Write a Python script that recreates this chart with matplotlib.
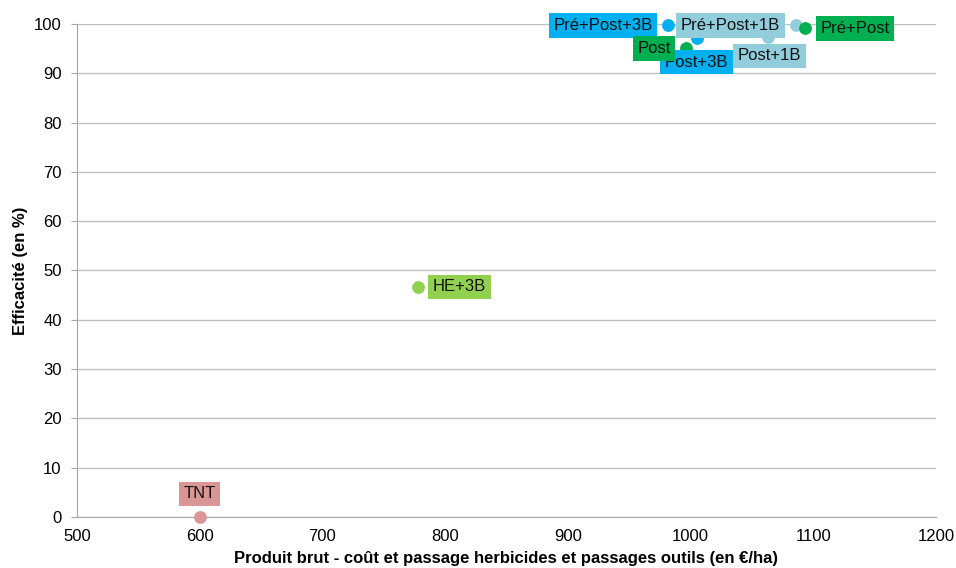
import matplotlib
matplotlib.use("Agg")
import matplotlib.pyplot as plt

plt.rcParams['font.family'] = ['Liberation Sans', 'DejaVu Sans']

labels = ["TNT", "HE+3B", "Pré+Post+3B", "Pré+Post+1B", "Pré+Post", "Post+3B", "Post", "Post+1B"]
x_vals = [600, 778, 982, 1086, 1093, 1005, 996, 1063]
y_vals = [0, 46.7, 99.7, 99.7, 99.1, 97.1, 95.2, 97.4]

colors = ["#DA9694", "#92D050", "#00B0F0", "#92CDDC", "#00B050", "#00B0F0", "#00B050", "#92CDDC"]
# label offsets in pixels (dx, dy) and alignment
offsets = [(0, 23, 'center'), (15, 0, 'left'), (-16, 0, 'right'), (-16, 0, 'right'),
           (16, 0, 'left'), (0, -24, 'center'), (-15, -1, 'right'), (2, -19, 'center')]

fig = plt.figure(figsize=(9.56, 5.68), dpi=100)
ax = fig.add_axes([0.0805, 0.0898, 0.8985, 0.868])

for x, y, c in zip(x_vals, y_vals, colors):
    ax.scatter([x], [y], s=85, color=c, zorder=3, linewidths=0, clip_on=False)

for lab, x, y, c, (dx, dy, ha) in zip(labels, x_vals, y_vals, colors, offsets):
    ax.annotate(lab, (x, y), xytext=(dx, dy), textcoords='offset pixels',
                ha=ha, va='center', fontsize=12, color='#111111', zorder=5,
                bbox=dict(boxstyle='square,pad=0.28', fc=c, ec='none'))

ax.set_xlim(500, 1200)
ax.set_ylim(0, 100)
ax.set_xticks(range(500, 1201, 100))
ax.set_yticks(range(0, 101, 10))
ax.yaxis.grid(True, color='#BFBFBF', linewidth=1)
ax.set_axisbelow(True)
for s in ['top', 'right']:
    ax.spines[s].set_visible(False)
for s in ['left', 'bottom']:
    ax.spines[s].set_color('#A6A6A6')
ax.tick_params(axis='y', labelsize=12, color='#A6A6A6', length=4, pad=7)
ax.tick_params(axis='x', labelsize=12, length=0, pad=9)
ax.set_xlabel("Produit brut - coût et passage herbicides et passages outils (en €/ha)",
              fontsize=12, fontweight='bold', labelpad=5)
ax.set_ylabel("Efficacité (en %)", fontsize=12, fontweight='bold', labelpad=4)

fig.savefig("out.png", dpi=100)
